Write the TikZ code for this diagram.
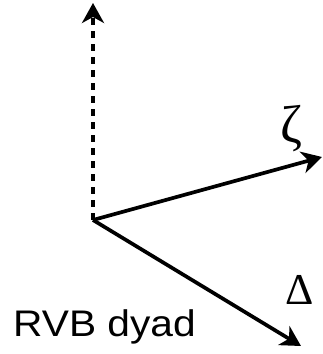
\documentclass[tikz,border=0pt]{standalone}
\usepackage{fontspec}
\setmainfont{Liberation Sans}
\newfontfamily\greekfont{Liberation Serif}
\usetikzlibrary{arrows.meta,positioning}
\tikzset{
  vec/.style={draw, line width=3.7pt, -{Stealth[length=20pt,width=22pt,inset=6pt]}},
  glyph/.style={inner sep=0pt, font=\greekfont, transform shape}
}

\begin{document}
\begin{tikzpicture}[x=1pt, y=1pt]
	\useasboundingbox (0,0) rectangle (323,354);
	% Place nodes
	\coordinate (o) at (93,134);
	\coordinate (up) at (93,351);
	\coordinate (z) at (322,197);
	\coordinate (d) at (301,8);
	\node [glyph, scale=5.3] (zl) at (291,225) {ζ};
	\node [glyph, scale=4.4] (dl) at (300,64) {Δ};
	\node [inner sep=0pt, anchor=base west, xscale=1.1, transform shape,
	       font=\fontsize{37}{40}\selectfont] (name) at (13,17) {RVB dyad};
	
	\path [vec, dash pattern=on 7pt off 6pt, line width=4.3pt] (o) -- (up);
	\path [vec] (o) -- (z);
	\path [vec] (o) -- (d);
	
\end{tikzpicture}
\end{document}
